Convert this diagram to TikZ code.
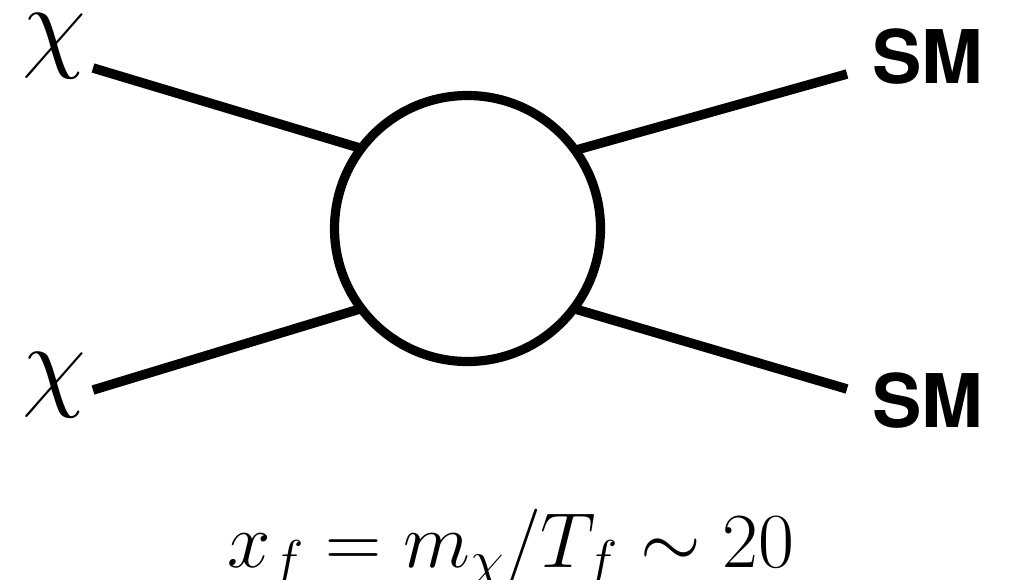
\RequirePackage{fix-cm}
\documentclass[tikz,border=0pt]{standalone}
\usepackage{fontspec}
\newfontfamily\smfont{TeX Gyre Heros}
\usetikzlibrary{positioning}

\begin{document}
\begin{tikzpicture}[
  x=0.5pt, y=-0.5pt,
  leg/.style={line width=4.75pt},
  blob/.style={circle, draw, line width=4.6pt, minimum size=133pt, inner sep=0pt, outer sep=0pt},
  chi/.style={anchor=base, inner sep=0pt, font=\fontsize{52}{52}\selectfont},
  sm/.style={anchor=base, inner sep=0pt, font=\smfont\bfseries\fontsize{37}{37}\selectfont},
  fo/.style={anchor=base, inner sep=0pt, font=\fontsize{39}{39}\selectfont}
]
  \useasboundingbox (0,0) rectangle (1010,579);

  \node[blob] (blob) at (467.5,228.5) {};

  \node[chi] (chiA) at (54.5,58) {$\chi$};
  \node[chi] (chiB) at (54.5,397) {$\chi$};
  \node[sm] (smA) at (927.5,83) {SM};
  \node[sm] (smB) at (927.5,427) {SM};

  \coordinate (tl) at (93,68);
  \coordinate (bl) at (93,390);
  \coordinate (tr) at (847,74);
  \coordinate (br) at (847,389);

  \draw[leg] (tl) -- (blob.143);
  \draw[leg] (bl) -- (blob.217);
  \draw[leg] (blob.36) -- (tr);
  \draw[leg] (blob.323) -- (br);

  \node[fo] (xf) at (511,567) {$x_f = m_\chi/T_f \sim 20$};
\end{tikzpicture}
\end{document}
